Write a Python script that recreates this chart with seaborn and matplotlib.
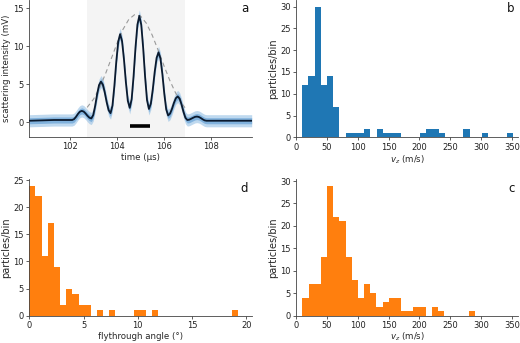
import numpy as np
import pandas as pd
import matplotlib
matplotlib.use("Agg")
import matplotlib.pyplot as plt
import seaborn as sns

# ---------------- data ----------------
# panel a: fitted signal (time in µs, intensity in mV)
time_us = [100.25, 100.8, 101.3, 101.8,
           102.08, 102.162, 102.244, 102.326, 102.408, 102.49, 102.572, 102.654, 102.736, 102.818,
           102.90, 102.982, 103.064, 103.146, 103.228, 103.31, 103.392, 103.474, 103.556, 103.638,
           103.72, 103.802, 103.884, 103.966, 104.048, 104.13, 104.212, 104.294, 104.376, 104.458,
           104.54, 104.622, 104.704, 104.786, 104.868, 104.95, 105.032, 105.114, 105.196, 105.278,
           105.36, 105.442, 105.524, 105.606, 105.688, 105.77, 105.852, 105.934, 106.016, 106.098,
           106.18, 106.262, 106.344, 106.426, 106.508, 106.59, 106.672, 106.754, 106.836, 106.918,
           107.00, 107.082, 107.164, 107.246, 107.328, 107.41, 107.492, 107.574, 107.656, 107.738,
           107.82, 108.3, 108.8, 109.3, 109.75]
signal_mV = [0.2, 0.25, 0.3, 0.3,
             0.3, 0.41, 0.71, 1.09, 1.39, 1.5, 1.41, 1.16, 0.85, 0.60,
             0.5, 0.96, 2.17, 3.68, 4.89, 5.35, 4.96, 3.92, 2.63, 1.59,
             1.2, 2.19, 4.79, 8.01, 10.61, 11.6, 10.68, 8.25, 5.25, 2.82,
             1.9, 3.05, 6.07, 9.83, 12.85, 14.0, 12.84, 9.77, 5.98, 2.91,
             1.75, 2.46, 4.32, 6.63, 8.49, 9.2, 8.41, 6.34, 3.76, 1.69,
             0.9, 1.14, 1.76, 2.54, 3.16, 3.4, 3.11, 2.33, 1.37, 0.59,
             0.3, 0.34, 0.46, 0.59, 0.71, 0.75, 0.70, 0.56, 0.39, 0.25,
             0.2, 0.2, 0.2, 0.2, 0.2]
# measured-data scatter around the fit: half-width of the noise band (mV)
noise_outer_mV = 0.8
noise_inner_mV = 0.4
# panel a: envelope (dashed)
env_time = [102.72, 103.0, 103.25, 103.5, 103.75, 104.0, 104.25, 104.5, 104.75, 105.0,
            105.25, 105.5, 105.75, 106.0, 106.25, 106.5, 106.75, 106.9]
env_mV = [1.96, 3.07, 4.54, 6.34, 8.37, 10.41, 12.22, 13.55, 14.17, 13.99,
          13.04, 11.47, 9.52, 7.46, 5.52, 3.85, 2.54, 1.92]
span_us = [102.72, 106.9]
scalebar_us = [104.55, 105.4]
scalebar_mV = [-0.5, -0.5]

# panel b: vz histogram (blue)
b_start, b_width = 10.2, 10.05
b_counts = [12, 14, 30, 12, 14, 7, 0, 1, 1, 1, 2, 0, 2, 1, 1, 1, 0, 0, 0, 1,
            2, 2, 1, 0, 0, 0, 2, 0, 0, 1, 0, 0, 0, 1]
# panel c: vz histogram (orange)
c_start, c_width = 10.3, 10.0
c_counts = [4, 7, 7, 13, 29, 22, 21, 13, 8, 4, 7, 5, 2, 3, 4, 4, 1, 1, 2, 2,
            0, 2, 1, 0, 0, 0, 0, 1]
# panel d: flythrough angle histogram (orange)
d_start, d_width = 0.0, 0.567
d_counts = [24, 22, 11, 17, 9, 2, 5, 4, 2, 2, 0, 1, 0, 1, 0, 0, 0, 1, 1, 0,
            1, 0, 0, 0, 0, 0, 0, 0, 0, 0, 0, 0, 0, 1]

# ---------------- style ----------------
sns.set_style("ticks")
plt.rcParams['font.family'] = ['DejaVu Sans']
plt.rcParams.update({
    'axes.linewidth': 0.6,
    'axes.edgecolor': '#444444',
    'xtick.major.size': 2.5, 'ytick.major.size': 2.5,
    'xtick.major.width': 0.6, 'ytick.major.width': 0.6,
    'xtick.major.pad': 1.5, 'ytick.major.pad': 1.5,
    'xtick.labelsize': 6, 'ytick.labelsize': 6,
    'axes.labelsize': 6.2, 'axes.labelpad': 1.5,
    'xtick.color': '#444444', 'ytick.color': '#444444',
    'xtick.labelcolor': '#222222', 'ytick.labelcolor': '#222222',
})

fig = plt.figure(figsize=(5.2, 3.43), dpi=100)
W, H = 520, 343
def box(l, t, r, b):
    return [l / W, 1 - b / H, (r - l) / W, (b - t) / H]

ax_a = fig.add_axes(box(29.3, 0, 251.7, 136.7))
ax_b = fig.add_axes(box(296, 0, 518, 137.3))
ax_d = fig.add_axes(box(29.3, 179, 251.7, 315.7))
ax_c = fig.add_axes(box(296, 179, 518, 315.7))

# ---------------- panel a ----------------
df_sig = pd.DataFrame({'t': time_us, 'y': signal_mV})
sig = np.array(signal_mV)
ax_a.axvspan(span_us[0], span_us[1], color='#f4f4f4', lw=0, zorder=0)
ax_a.fill_between(time_us, sig - noise_outer_mV, sig + noise_outer_mV,
                  color='#8cbbe3', alpha=0.55, lw=0, zorder=1)
ax_a.fill_between(time_us, sig - noise_inner_mV, sig + noise_inner_mV,
                  color='#4f93cf', alpha=0.55, lw=0, zorder=2)
sns.lineplot(x=env_time, y=env_mV, ax=ax_a, color='#9a9a9a', lw=0.8,
             linestyle=(0, (4, 3)), zorder=3)
sns.lineplot(data=df_sig, x='t', y='y', ax=ax_a, color='#0b1a2e', lw=1.3, zorder=4)
sns.lineplot(x=scalebar_us, y=scalebar_mV, ax=ax_a, color='black', lw=2.6,
             solid_capstyle='butt', zorder=5)
ax_a.set_xlim(100.25, 109.75)
ax_a.set_ylim(-1.9, 16.1)
ax_a.set_xticks([102, 104, 106, 108])
ax_a.set_yticks([0, 5, 10, 15])
ax_a.set_xlabel('time (µs)')
ax_a.set_ylabel('scattering intensity (mV)')

# ---------------- histograms ----------------
def hist(ax, start, width, counts, color):
    n = len(counts)
    edges = [start + width * k for k in range(n + 1)]
    centers = [start + width * (k + 0.5) for k in range(n)]
    sns.histplot(x=centers, weights=counts, bins=edges, ax=ax, color=color,
                 alpha=1, linewidth=0, edgecolor=color)

hist(ax_b, b_start, b_width, b_counts, '#1f77b4')
ax_b.set_xlim(0, 360)
ax_b.set_ylim(0, 31.5)
ax_b.set_xticks([0, 50, 100, 150, 200, 250, 300, 350])
ax_b.set_yticks([0, 5, 10, 15, 20, 25, 30])
ax_b.set_xlabel('$v_z$ (m/s)', labelpad=1)
ax_b.set_ylabel('particles/bin', fontsize=7)

hist(ax_c, c_start, c_width, c_counts, '#ff7f0e')
ax_c.set_xlim(0, 360)
ax_c.set_ylim(0, 30.45)
ax_c.set_xticks([0, 50, 100, 150, 200, 250, 300, 350])
ax_c.set_yticks([0, 5, 10, 15, 20, 25, 30])
ax_c.set_xlabel('$v_z$ (m/s)', labelpad=0.5)
ax_c.set_ylabel('particles/bin', fontsize=7)

hist(ax_d, d_start, d_width, d_counts, '#ff7f0e')
ax_d.set_xlim(0, 20.5)
ax_d.set_ylim(0, 25.2)
ax_d.set_xticks([0, 5, 10, 15, 20])
ax_d.set_yticks([0, 5, 10, 15, 20, 25])
ax_d.set_xlabel('flythrough angle (°)', labelpad=1)
ax_d.set_ylabel('particles/bin', fontsize=7)

for ax, letter in [(ax_a, 'a'), (ax_b, 'b'), (ax_c, 'c'), (ax_d, 'd')]:
    sns.despine(ax=ax)
    ax.text(0.985, 0.985 if ax in (ax_a, ax_b) else 0.975, letter, transform=ax.transAxes,
            ha='right', va='top', fontsize=8.5, color='#111111')

fig.savefig('out.png', dpi=100)
